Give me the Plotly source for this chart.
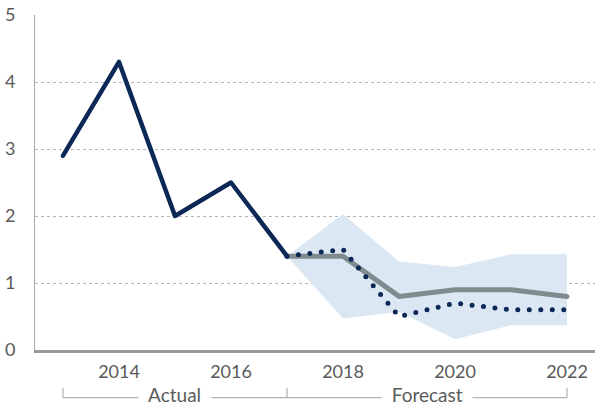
import plotly.graph_objects as go

years_actual = [2013, 2014, 2015, 2016, 2017]
actual = [2.9, 4.3, 2.0, 2.5, 1.4]

years_fc = [2017, 2018, 2019, 2020, 2021, 2022]
forecast_gray = [1.4, 1.4, 0.8, 0.9, 0.9, 0.8]
forecast_dotted = [1.4, 1.5, 0.5, 0.7, 0.6, 0.6]
band_upper = [1.4, 2.03, 1.32, 1.24, 1.43, 1.43]
band_lower = [1.4, 0.47, 0.57, 0.16, 0.37, 0.37]

x_tickvals = [2014, 2016, 2018, 2020, 2022]
y_tickvals = [0, 1, 2, 3, 4, 5]

NAVY = "#0b2856"
GRAY = "#7f8b8e"
BAND = "#dbe8f3"
FONT = "Lato"
TXT = "#5a5a5a"

fig = go.Figure()
fig.add_trace(go.Scatter(x=years_fc, y=band_lower, mode="lines", line=dict(width=0, color=BAND),
                         showlegend=False, hoverinfo="skip"))
fig.add_trace(go.Scatter(x=years_fc, y=band_upper, mode="lines", line=dict(width=0, color=BAND),
                         fill="tonexty", fillcolor=BAND, showlegend=False, hoverinfo="skip"))
fig.add_trace(go.Scatter(x=years_fc, y=forecast_gray, mode="lines", line=dict(width=5, color=GRAY),
                         showlegend=False))
fig.add_trace(go.Scatter(x=years_fc, y=forecast_dotted, mode="lines",
                         line=dict(width=5, color=NAVY, dash="0px,11.5px"), showlegend=False))
fig.add_trace(go.Scatter(x=years_actual, y=actual, mode="lines", line=dict(width=4.5, color=NAVY),
                         showlegend=False))

# bracket under axis
ly = -0.1424
ty = -0.1128
bcol = "#a0a0a0"
for x0, x1 in [(2013, 2017), (2017, 2022)]:
    fig.add_shape(type="line", xref="x", yref="paper", x0=x0, x1=x1, y0=ly, y1=ly,
                  line=dict(color=bcol, width=1))
for xv in [2013, 2017, 2022]:
    fig.add_shape(type="line", xref="x", yref="paper", x0=xv, x1=xv, y0=ly, y1=ty,
                  line=dict(color=bcol, width=1))
for xc, txt in [(2015, "Actual"), (2019.5, "Forecast")]:
    fig.add_annotation(x=xc, xref="x", y=-0.1335, yref="paper", text="&nbsp;&nbsp;" + txt + "&nbsp;&nbsp;",
                       showarrow=False, bgcolor="white", borderpad=0, xanchor="center", yanchor="middle",
                       font=dict(family=FONT, size=19, color=TXT))

fig.update_layout(
    width=598, height=409,
    margin=dict(l=35, r=3, t=13, b=59),
    plot_bgcolor="white", paper_bgcolor="white",
    font=dict(family=FONT, size=17, color=TXT),
    xaxis=dict(range=[2012.5, 2022.5], tickvals=x_tickvals, ticktext=[str(v) for v in x_tickvals],
               showgrid=False, zeroline=False, showline=True, linecolor="#9a9a9a", linewidth=3,
               ticks="", ticklabelstandoff=3, tickfont=dict(size=18)),
    yaxis=dict(range=[0, 5], tickvals=y_tickvals, showgrid=True, gridcolor="#b5b5b5", griddash="dot",
               gridwidth=1, zeroline=False, showline=True, linecolor="#a8a8a8", linewidth=1,
               ticks="", ticklabelstandoff=15, tickfont=dict(size=18)),
)

post = """
document.body.style.margin='0';
var gd = document.getElementsByClassName('plotly-graph-div')[0];
function rc(){ gd.querySelectorAll('.scatterlayer .js-line').forEach(function(p){ p.style.strokeLinecap='round'; p.style.strokeLinejoin='round'; }); }
rc(); gd.on('plotly_afterplot', rc);
"""
fig.write_html("out.html", post_script=post, config={"displayModeBar": False})
